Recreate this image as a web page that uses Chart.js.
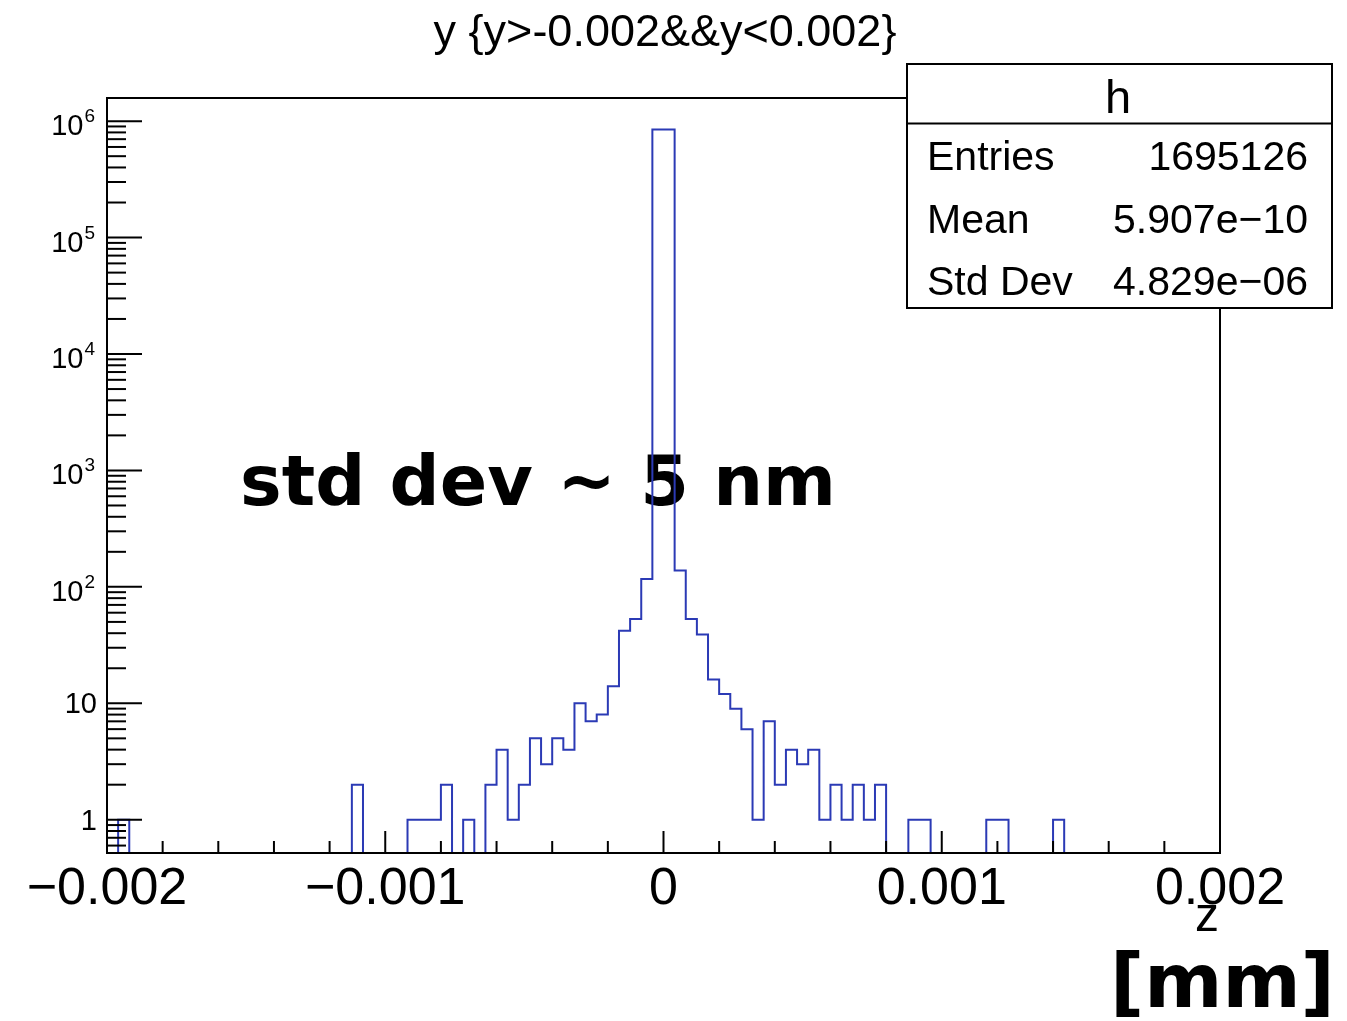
<!DOCTYPE html>
<html>
<head>
<meta charset="utf-8">
<title>y {y>-0.002&&y<0.002}</title>
<script src="https://cdn.jsdelivr.net/npm/chart.js@4.4.0/dist/chart.umd.min.js"></script>
<style>
  html, body { margin: 0; padding: 0; background: #fff; }
</style>
</head>
<body>
<canvas id="histChart" width="1347" height="1021"></canvas>
<script>
// Histogram h: 100 bins of y between -0.002 and 0.002
const binLow = -0.002;
const binWidth = 0.00004;
const binCounts = [
    0, 1, 0, 0, 0, 0, 0, 0, 0, 0,
    0, 0, 0, 0, 0, 0, 0, 0, 0, 0,
    0, 0, 2, 0, 0, 0, 0, 1, 1, 1,
    2, 0, 1, 0, 2, 4, 1, 2, 5, 3,
    5, 4, 10, 7, 8, 14, 42, 53, 117, 847100,
    847432, 138, 53, 39, 16, 12, 9, 6, 1, 7,
    2, 4, 3, 4, 1, 2, 1, 2, 1, 2,
    0, 0, 1, 1, 0, 0, 0, 0, 0, 1,
    1, 0, 0, 0, 0, 1, 0, 0, 0, 0,
    0, 0, 0, 0, 0, 0, 0, 0, 0, 0
];

// Axis ranges and labels
const xRange = [-0.002, 0.002];
const yRange = [0.518, 1.58e6];
const xTickValues = [-0.002, -0.001, 0, 0.001, 0.002];
const xTickLabels = ['\u22120.002', '\u22120.001', '0', '0.001', '0.002'];
const yTickValues = [1, 10, 1e2, 1e3, 1e4, 1e5, 1e6];
const yTickExponents = ['', '', '2', '3', '4', '5', '6'];

// Stats box
const statNames = ['Entries', 'Mean', 'Std Dev'];
const statValues = ['1695126', '5.907e\u221210', '4.829e\u221206'];

const titleText = 'y {y>-0.002&&y<0.002}';
const xAxisTitle = 'z';
const unitText = '[mm]';
const noteText = 'std dev ~ 5 nm';

const SANS = '"Liberation Sans", Arial, Helvetica, sans-serif';
const BOLD = '"DejaVu Sans", sans-serif';

// Step outline points: one per bin lower edge, plus the last upper edge.
// Empty bins sit on the bottom of the log axis.
const histPoints = binCounts.map((c, i) => ({
    x: binLow + i * binWidth,
    y: c > 0 ? c : yRange[0]
}));
histPoints.push({ x: binLow + binCounts.length * binWidth, y: yRange[0] });

function isDecade(v) {
    const l = Math.log10(v);
    return Math.abs(l - Math.round(l)) < 1e-9;
}

function line(ctx, x1, y1, x2, y2) {
    ctx.beginPath();
    ctx.moveTo(x1, y1);
    ctx.lineTo(x2, y2);
    ctx.stroke();
}

const rootFrame = {
    id: 'rootFrame',
    beforeDraw(chart) {
        const ctx = chart.ctx;
        ctx.save();
        ctx.fillStyle = '#fff';
        ctx.fillRect(0, 0, chart.width, chart.height);
        ctx.restore();
    },
    beforeDatasetsDraw(chart) {
        // annotation sits under the histogram line
        const ctx = chart.ctx;
        ctx.save();
        ctx.fillStyle = '#000';
        ctx.font = 'bold 70px ' + BOLD;
        ctx.textAlign = 'left';
        ctx.textBaseline = 'alphabetic';
        ctx.fillText(noteText, 240, 505);
        ctx.restore();
    },
    afterDatasetsDraw(chart) {
        const { ctx, chartArea: a, scales: { x, y } } = chart;
        ctx.save();
        ctx.strokeStyle = '#000';
        ctx.lineWidth = 2;
        ctx.strokeRect(a.left, a.top, a.right - a.left, a.bottom - a.top);

        // x ticks point up into the frame
        x.ticks.forEach(t => {
            const px = x.getPixelForValue(t.value);
            const major = Math.abs(t.value * 1000 - Math.round(t.value * 1000)) < 1e-6;
            line(ctx, px, a.bottom, px, a.bottom - (major ? 22 : 12));
        });
        // y ticks point right into the frame
        y.ticks.forEach(t => {
            const py = y.getPixelForValue(t.value);
            line(ctx, a.left, py, a.left + (isDecade(t.value) ? 35 : 19), py);
        });

        ctx.fillStyle = '#000';
        // x labels
        ctx.font = '52px ' + SANS;
        ctx.textAlign = 'center';
        ctx.textBaseline = 'alphabetic';
        xTickValues.forEach((v, i) => {
            ctx.fillText(xTickLabels[i], x.getPixelForValue(v), 904);
        });
        // x axis title
        ctx.font = '48px ' + SANS;
        ctx.textAlign = 'right';
        ctx.fillText(xAxisTitle, 1219, 931);

        // y labels, powers of ten with superscript exponent
        const labelRight = 95;
        yTickValues.forEach((v, i) => {
            const py = y.getPixelForValue(v);
            const exp = yTickExponents[i];
            ctx.textAlign = 'right';
            if (exp) {
                ctx.font = '19px ' + SANS;
                const ew = ctx.measureText(exp).width;
                ctx.fillText(exp, labelRight, py + 1);
                ctx.font = '29px ' + SANS;
                ctx.fillText(String(10), labelRight - ew - 1, py + 14);
            } else {
                ctx.font = '29px ' + SANS;
                ctx.fillText(String(v), labelRight + 2, py + 10);
            }
        });

        // title
        ctx.font = '45px ' + SANS;
        ctx.textAlign = 'center';
        ctx.fillText(titleText, 665, 46);

        // stats box
        const bx = 907, by = 64, bw = 425, bh = 244;
        ctx.fillStyle = '#fff';
        ctx.fillRect(bx, by, bw, bh);
        ctx.strokeRect(bx, by, bw, bh);
        line(ctx, bx, 123.5, bx + bw, 123.5);
        ctx.fillStyle = '#000';
        ctx.font = '47px ' + SANS;
        ctx.textAlign = 'center';
        ctx.fillText('h', 1118, 113);
        ctx.font = '41px ' + SANS;
        statNames.forEach((name, i) => {
            const base = 170 + i * 62.5;
            ctx.textAlign = 'left';
            ctx.fillText(name, 927, base);
            ctx.textAlign = 'right';
            ctx.fillText(statValues[i], 1308, base);
        });

        // unit label
        ctx.font = 'bold 75px ' + BOLD;
        ctx.textAlign = 'left';
        ctx.fillText(unitText, 1110, 1007);
        ctx.restore();
    }
};

new Chart(document.getElementById('histChart'), {
    type: 'line',
    data: {
        datasets: [{
            label: 'h',
            data: histPoints,
            // horizontal at the previous bin's height, then vertical at the edge
            stepped: 'before',
            borderColor: '#2b3ab5',
            borderWidth: 2,
            pointRadius: 0,
            fill: false
        }]
    },
    options: {
        responsive: false,
        animation: false,
        layout: { padding: { left: 107, top: 98, right: 127, bottom: 168 } },
        plugins: {
            legend: { display: false },
            tooltip: { enabled: false },
            title: { display: false }
        },
        scales: {
            x: {
                type: 'linear',
                min: xRange[0],
                max: xRange[1],
                grid: { display: false, drawTicks: false },
                border: { display: false },
                ticks: { display: false },
                afterBuildTicks: scale => {
                    const ticks = [];
                    for (let k = -10; k <= 10; k++) ticks.push({ value: k * 0.0002 });
                    scale.ticks = ticks;
                }
            },
            y: {
                type: 'logarithmic',
                min: yRange[0],
                max: yRange[1],
                grid: { display: false, drawTicks: false },
                border: { display: false },
                ticks: { display: false },
                afterBuildTicks: scale => {
                    const ticks = [];
                    for (let e = -1; e <= 6; e++) {
                        for (let m = 1; m <= 9; m++) {
                            const v = m * Math.pow(10, e);
                            if (v >= scale.min && v <= scale.max) ticks.push({ value: v });
                        }
                    }
                    scale.ticks = ticks;
                }
            }
        }
    },
    plugins: [rootFrame]
});
</script>
</body>
</html>
